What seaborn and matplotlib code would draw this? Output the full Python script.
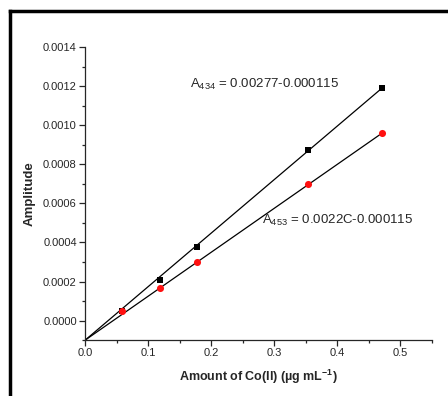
import numpy as np
import pandas as pd
import matplotlib
matplotlib.use("Agg")
import matplotlib.pyplot as plt
from matplotlib.lines import Line2D
from matplotlib.ticker import MultipleLocator, FormatStrFormatter
import seaborn as sns

# Co(II) amounts (µg mL^-1) and first-derivative amplitudes
conc_434 = [0.059, 0.118, 0.177, 0.353, 0.471]
amp_434 = [0.00005, 0.00021, 0.000375, 0.000875, 0.00119]
conc_453 = [0.059, 0.118, 0.177, 0.353, 0.471]
amp_453 = [0.00005, 0.000165, 0.0003, 0.0007, 0.00096]

# calibration lines: slope, intercept
fit_434 = [0.00274, -0.0001]
fit_453 = [0.00225, -0.0001]
fit_range = [0.0, 0.471]

sns.set_style("ticks")
plt.rcParams["font.family"] = ["Liberation Sans", "DejaVu Sans"]
plt.rcParams["mathtext.fontset"] = "custom"
plt.rcParams["mathtext.rm"] = "Liberation Sans"
plt.rcParams["mathtext.it"] = "Liberation Sans:italic"
plt.rcParams["mathtext.bf"] = "Liberation Sans:bold"
plt.rcParams["axes.unicode_minus"] = False

fig = plt.figure(figsize=(4.48, 3.96), dpi=100)
ax = fig.add_axes([0.19, 0.141, 0.774, 0.74])

xs = np.array(fit_range)
lines = pd.DataFrame({
    "x": np.concatenate([xs, xs]),
    "y": np.concatenate([fit_434[0] * xs + fit_434[1], fit_453[0] * xs + fit_453[1]]),
    "band": ["434"] * 2 + ["453"] * 2,
})
sns.lineplot(data=lines, x="x", y="y", units="band", estimator=None,
             color="black", linewidth=0.9, ax=ax, legend=False)

d434 = pd.DataFrame({"x": conc_434, "y": amp_434})
d453 = pd.DataFrame({"x": conc_453, "y": amp_453})
sns.scatterplot(data=d434, x="x", y="y", marker="s", color="black", s=22,
                edgecolor="black", linewidth=0, ax=ax, zorder=3)
sns.scatterplot(data=d453, x="x", y="y", marker="o", color="#ff1010", s=26,
                edgecolor="#ff1010", linewidth=0, ax=ax, zorder=4)

ax.set_xlim(0, 0.55)
ax.set_ylim(-0.0001, 0.0014)
ax.xaxis.set_major_locator(MultipleLocator(0.1))
ax.xaxis.set_minor_locator(MultipleLocator(0.05))
ax.yaxis.set_major_locator(MultipleLocator(0.0002))
ax.yaxis.set_minor_locator(MultipleLocator(0.0001))
ax.xaxis.set_major_formatter(FormatStrFormatter("%.1f"))
ax.yaxis.set_major_formatter(FormatStrFormatter("%.4f"))
ax.tick_params(which="major", direction="out", length=4, width=0.9, labelsize=8, pad=2)
ax.tick_params(which="minor", direction="out", length=2.5, width=0.9)
for s in ["left", "bottom"]:
    ax.spines[s].set_linewidth(0.9)
sns.despine(ax=ax)

ax.set_xlabel("Amount of Co(II) (µg mL$^{\\mathbf{-1}}$)", fontsize=9,
              fontweight="bold", labelpad=7)
ax.set_ylabel("Amplitude", fontsize=9.5, fontweight="bold", labelpad=5)

ax.text(0.166, 0.00121, "A$_{434}$ = 0.00277-0.000115", fontsize=9.5,
        ha="left", va="center")
ax.text(0.28, 0.000515, "A$_{453}$ = 0.0022C-0.000115", fontsize=9.5,
        ha="left", va="center")

# heavy frame on the left and top edges
fig.add_artist(Line2D([0.0223, 0.0223], [0.0, 0.972], transform=fig.transFigure,
                      color="black", linewidth=2.5, solid_capstyle="projecting"))
fig.add_artist(Line2D([0.0223, 1.0], [0.972, 0.972], transform=fig.transFigure,
                      color="black", linewidth=2.5, solid_capstyle="projecting"))

fig.savefig("out.png", dpi=100)
